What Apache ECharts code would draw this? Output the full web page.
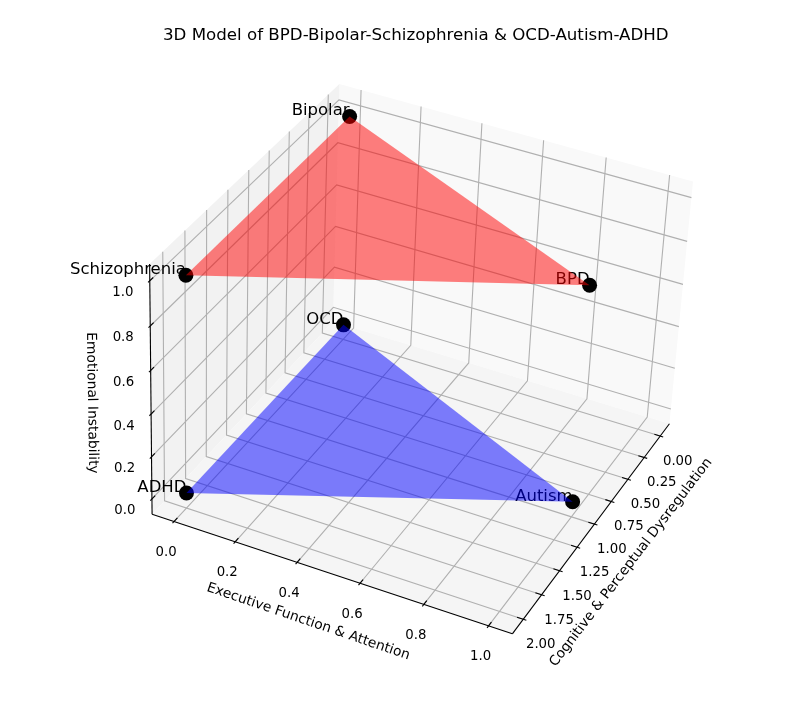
<!DOCTYPE html>
<html>
<head>
<meta charset="utf-8">
<style>
  html, body { margin: 0; padding: 0; background: #fff; }
  #main { width: 796px; height: 707px; }
</style>
<script src="https://cdn.jsdelivr.net/npm/echarts@6/dist/echarts.min.js"></script>
</head>
<body>
<div id="main"></div>
<script>
const disorders = ['BPD', 'Bipolar', 'Schizophrenia', 'OCD', 'Autism', 'ADHD'];
const xValues = [1, 0, 2, 0, 1, 2];
const yValues = [1, 0, 0, 0, 1, 0];
const zValues = [1, 1, 1, 0, 0, 0];
const xTicks = [0, 0.25, 0.5, 0.75, 1, 1.25, 1.5, 1.75, 2];
const yTicks = [0, 0.2, 0.4, 0.6, 0.8, 1];
const zTicks = [0, 0.2, 0.4, 0.6, 0.8, 1];
const redGroup = ['BPD', 'Bipolar', 'Schizophrenia'];
const blueGroup = ['OCD', 'Autism', 'ADHD'];

// data limits, panes stick out 1/48 of the range past them
const xLim = [-0.1, 2.1], yLim = [-0.05, 1.05], zLim = [-0.05, 1.05];
const pad = l => (l[1] - l[0]) / 48;
const X0 = xLim[0] - pad(xLim), X1 = xLim[1] + pad(xLim);
const Y0 = yLim[0] - pad(yLim), Y1 = yLim[1] + pad(yLim);
const Z0 = zLim[0] - pad(zLim), Z1 = zLim[1] + pad(zLim);

// camera, fitted against the reference
const box = [1.1428, 1.1428, 0.8571];
const elev = 34.1 * Math.PI / 180, azim = 24.4 * Math.PI / 180, roll = -2.6 * Math.PI / 180, dist = 10;
const scaleX = 3333, scaleY = 3330.7, centerX = 422.4, centerY = 347.9;

const n = [Math.cos(elev) * Math.cos(azim), Math.cos(elev) * Math.sin(azim), Math.sin(elev)];
const eye = [box[0] / 2 + dist * n[0], box[1] / 2 + dist * n[1], box[2] / 2 + dist * n[2]];
const ul = Math.hypot(n[0], n[1]);
const u = [-n[1] / ul, n[0] / ul, 0];
const v = [n[1] * u[2] - n[2] * u[1], n[2] * u[0] - n[0] * u[2], n[0] * u[1] - n[1] * u[0]];

// 3d data value -> point on the projection plane (the hidden x/y axes below)
function project(p) {
  const w = [(p[0] - xLim[0]) / (xLim[1] - xLim[0]) * box[0],
             (p[1] - yLim[0]) / (yLim[1] - yLim[0]) * box[1],
             (p[2] - zLim[0]) / (zLim[1] - zLim[0]) * box[2]];
  const d = [w[0] - eye[0], w[1] - eye[1], w[2] - eye[2]];
  const zc = n[0] * d[0] + n[1] * d[1] + n[2] * d[2];
  const sx = (u[0] * d[0] + u[1] * d[1]) / -zc;
  const sy = (v[0] * d[0] + v[1] * d[1] + v[2] * d[2]) / -zc;
  return [sx * Math.cos(roll) - sy * Math.sin(roll), sx * Math.sin(roll) + sy * Math.cos(roll)];
}

const fontFamily = 'DejaVu Sans';
const chart = echarts.init(document.getElementById('main'));
const pixel = (api, p) => api.coord(project(p));

const panes = [
  { corners: [[X0, Y0, Z0], [X0, Y1, Z0], [X0, Y1, Z1], [X0, Y0, Z1]], fill: 'rgb(249,249,249)' },
  { corners: [[X0, Y0, Z0], [X1, Y0, Z0], [X1, Y0, Z1], [X0, Y0, Z1]], fill: 'rgb(242,242,242)' },
  { corners: [[X0, Y0, Z0], [X1, Y0, Z0], [X1, Y1, Z0], [X0, Y1, Z0]], fill: 'rgb(245,245,245)' }
];

const gridLines = [];
xTicks.forEach(t => gridLines.push([[t, Y0, Z1], [t, Y0, Z0], [t, Y1, Z0]]));
yTicks.forEach(t => gridLines.push([[X0, t, Z1], [X0, t, Z0], [X1, t, Z0]]));
zTicks.forEach(t => gridLines.push([[X1, Y0, t], [X0, Y0, t], [X0, Y1, t]]));

const axisLines = [
  [[X1, Y0, Z0], [X1, Y1, Z0]],
  [[X1, Y1, Z0], [X0, Y1, Z0]],
  [[X1, Y0, Z0], [X1, Y0, Z1]]
];

const dx = (X1 - X0) / 12, dy = (Y1 - Y0) / 12;
const tickMarks = [];
xTicks.forEach(t => tickMarks.push({ from: [t, Y1 + 0.1 * dy, Z0], to: [t, Y1 - 0.2 * dy, Z0], at: [t, Y1, Z0], off: [17.5, 25.5], text: t.toFixed(2) }));
yTicks.forEach(t => tickMarks.push({ from: [X1 + 0.1 * dx, t, Z0], to: [X1 - 0.2 * dx, t, Z0], at: [X1, t, Z0], off: [-8, 31], text: t.toFixed(1) }));
zTicks.forEach(t => tickMarks.push({ from: [X1 + 0.1 * dx, Y0, t], to: [X1 - 0.2 * dx, Y0, t], at: [X1, Y0, t], off: [-27, 12], text: t.toFixed(1) }));

const axisTitles = [
  { text: 'Cognitive & Perceptual Dysregulation', x: 631, y: 562.5, rotation: 52.6 },
  { text: 'Executive Function & Attention', x: 308.3, y: 621.7, rotation: -18.8 },
  { text: 'Emotional Instability', x: 91.7, y: 403, rotation: -89 }
];

const triangles = [
  { names: redGroup, fill: 'rgba(255,0,0,0.5)' },
  { names: blueGroup, fill: 'rgba(0,0,255,0.5)' }
];
const at = name => {
  const i = disorders.indexOf(name);
  return [xValues[i], yValues[i], zValues[i]];
};

function customSeries(data, z, renderItem) {
  return {
    type: 'custom',
    coordinateSystem: 'cartesian2d',
    data: data.map((r, i) => [0, 0, i]),
    z,
    clip: false,
    silent: true,
    animation: false,
    renderItem
  };
}
const lineStyle = (stroke, w) => ({ stroke, lineWidth: w, fill: null });

chart.setOption({
  animation: false,
  title: {
    text: '3D Model of BPD-Bipolar-Schizophrenia & OCD-Autism-ADHD',
    left: 158,
    top: 22,
    textStyle: { fontFamily, fontSize: 16.67, fontWeight: 'normal', color: '#000' }
  },
  grid: { left: 0, top: 0, width: 796, height: 707 },
  xAxis: { type: 'value', min: -centerX / scaleX, max: (796 - centerX) / scaleX, show: false },
  yAxis: { type: 'value', min: -(707 - centerY) / scaleY, max: centerY / scaleY, show: false },
  series: [
    customSeries(panes, 1, (params, api) => {
      const p = panes[params.dataIndex];
      return { type: 'polygon', shape: { points: p.corners.map(c => pixel(api, c)) }, style: { fill: p.fill } };
    }),
    customSeries(gridLines, 2, (params, api) => ({
      type: 'polyline',
      shape: { points: gridLines[params.dataIndex].map(c => pixel(api, c)) },
      style: lineStyle('#b0b0b0', 1.1)
    })),
    customSeries(axisLines, 3, (params, api) => ({
      type: 'polyline',
      shape: { points: axisLines[params.dataIndex].map(c => pixel(api, c)) },
      style: lineStyle('#000', 1.1)
    })),
    customSeries(tickMarks, 3, (params, api) => {
      const t = tickMarks[params.dataIndex];
      const a = pixel(api, t.at);
      return {
        type: 'group',
        children: [
          { type: 'polyline', shape: { points: [pixel(api, t.from), pixel(api, t.to)] }, style: lineStyle('#000', 1.1) },
          {
            type: 'text',
            x: a[0] + t.off[0],
            y: a[1] + t.off[1],
            style: { text: t.text, fontFamily, fontSize: 13.3, fill: '#000', align: 'center', verticalAlign: 'middle' }
          }
        ]
      };
    }),
    customSeries(axisTitles, 3, params => {
      const t = axisTitles[params.dataIndex];
      return {
        type: 'text',
        x: t.x,
        y: t.y,
        rotation: t.rotation * Math.PI / 180,
        style: { text: t.text, fontFamily, fontSize: 13.8, fill: '#000', align: 'center', verticalAlign: 'middle' }
      };
    }),
    customSeries(disorders, 4, (params, api) => {
      const c = pixel(api, at(disorders[params.dataIndex]));
      return {
        type: 'group',
        children: [
          { type: 'circle', shape: { cx: c[0], cy: c[1], r: 7.5 }, style: { fill: '#000' } },
          {
            type: 'text',
            x: c[0],
            y: c[1] + 3,
            style: { text: disorders[params.dataIndex], fontFamily, fontSize: 16.5, fill: '#000', align: 'right', verticalAlign: 'bottom' }
          }
        ]
      };
    }),
    // the triangles go over the labels and points, as in the reference
    customSeries(triangles, 5, (params, api) => {
      const t = triangles[params.dataIndex];
      return { type: 'polygon', shape: { points: t.names.map(name => pixel(api, at(name))) }, style: { fill: t.fill } };
    })
  ]
});
</script>
</body>
</html>
